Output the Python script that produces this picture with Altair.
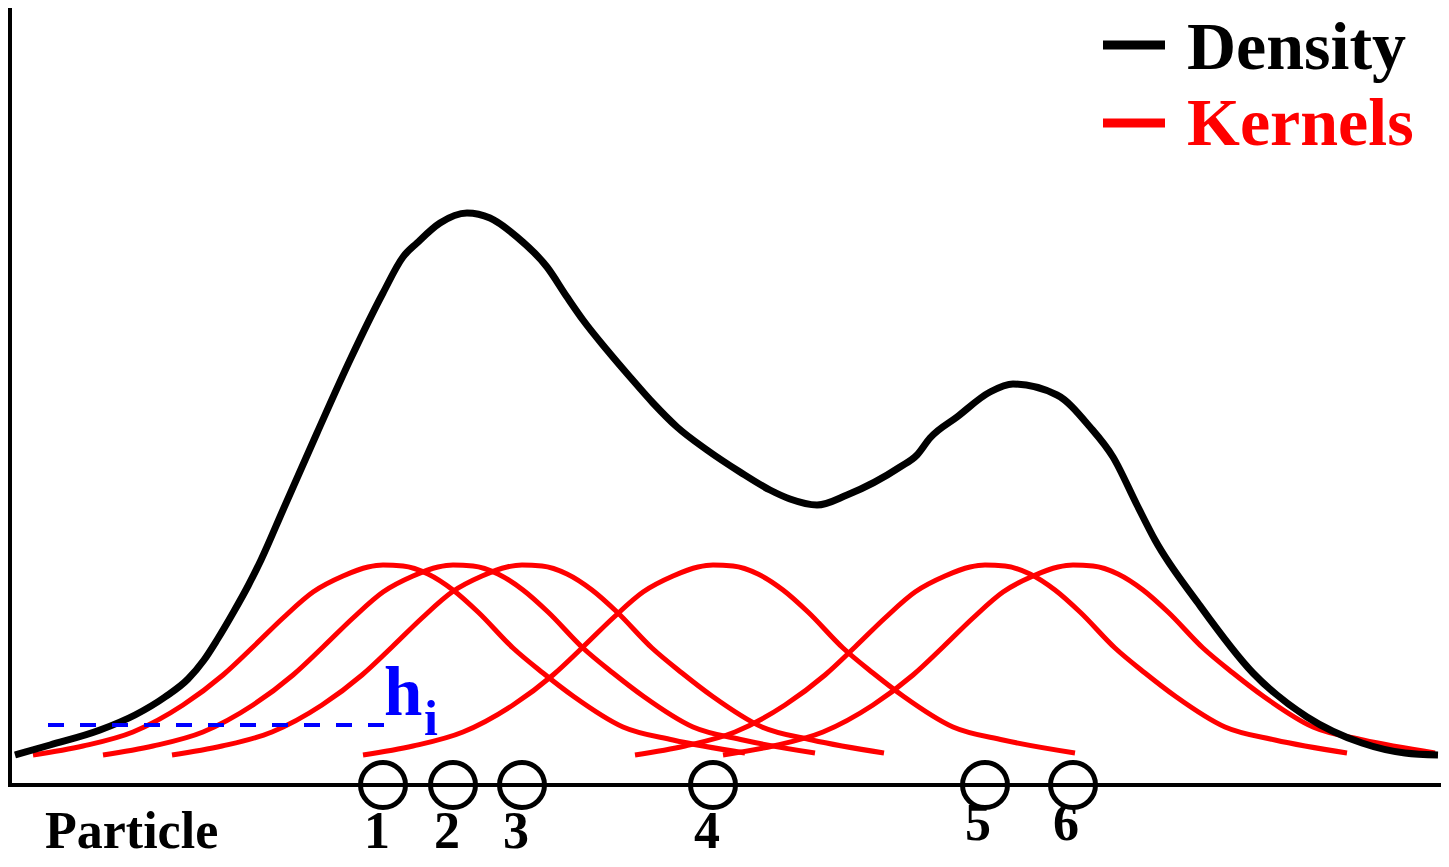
import altair as alt
import pandas as pd

# ---- data (x = horizontal position, h = height above the axis) ----
particle_x = [383, 453, 522, 713, 985, 1073]
particle_label = ["1", "2", "3", "4", "5", "6"]

# one kernel profile (offset from its particle, height); every kernel is the same shape
kernel_dx = [-350, -300, -250, -200, -160, -130, -100, -70, -40, -15, 0, 20, 45, 70, 95, 130, 160, 190, 240, 290, 362]
kernel_h = [30, 39, 53, 80, 110, 138, 167, 193, 209, 218, 220, 219, 211, 195, 173, 137, 112, 89, 58, 45, 32]

density_x = [15, 50, 100, 135, 165, 188, 204, 217, 233, 248, 261, 283, 317, 350, 383, 403, 417, 440, 467, 490,
             517, 547, 567, 583, 607, 630, 653, 677, 707, 740, 770, 790, 817, 847, 900, 917, 930, 957, 990, 1013,
             1057, 1090, 1113, 1137, 1155, 1198, 1253, 1307, 1362, 1405, 1438]
density_h = [30, 40, 55, 70, 88, 106, 125, 145, 172, 199, 225, 275, 352, 425, 492, 528, 542, 562, 572, 567,
             548, 518, 488, 465, 435, 408, 382, 358, 335, 313, 295, 286, 280, 290, 318, 330, 347, 368, 393, 401,
             390, 358, 328, 280, 245, 182, 112, 68, 42, 32, 30]

legend_names = ["Density", "Kernels"]
legend_colors = ["#000000", "#ff0000"]

FONT = "Liberation Serif"
W, H = 1433, 777

density_df = pd.DataFrame({"x": density_x, "h": density_h})
rows = []
for k, px in enumerate(particle_x):
    for dx, h in zip(kernel_dx, kernel_h):
        rows.append({"kernel": k, "x": px + dx, "h": h})
kernel_df = pd.DataFrame(rows)
particles_df = pd.DataFrame({"x": particle_x, "label": particle_label, "h": [0] * len(particle_x)})
one = pd.DataFrame({"a": [0]})

xs = alt.Scale(domain=[8, 8 + W], nice=False, zero=False)
ys = alt.Scale(domain=[0, H], nice=False, zero=False)

# axes
left_axis = alt.Chart(one).mark_rule(color="black", strokeWidth=4).encode(
    x=alt.value(2), y=alt.value(0), y2=alt.value(H))
bottom_axis = alt.Chart(one).mark_rule(color="black", strokeWidth=4).encode(
    x=alt.value(0), x2=alt.value(W), y=alt.value(H))

kernels = alt.Chart(kernel_df).mark_line(color="#ff0000", strokeWidth=5, interpolate="monotone").encode(
    x=alt.X("x:Q", scale=xs, axis=None),
    y=alt.Y("h:Q", scale=ys, axis=None),
    detail="kernel:N",
)

density = alt.Chart(density_df).mark_line(color="black", strokeWidth=7, interpolate="monotone").encode(
    x=alt.X("x:Q", scale=xs, axis=None),
    y=alt.Y("h:Q", scale=ys, axis=None),
)

hline = alt.Chart(one).mark_rule(color="#0000ff", strokeWidth=4, strokeDash=[16, 16]).encode(
    x=alt.value(40), x2=alt.value(377), y=alt.value(717))
h_text = alt.Chart(one).mark_text(font=FONT, fontSize=69, fontWeight="bold", color="#0000ff",
                                  align="left", baseline="alphabetic").encode(
    x=alt.value(376), y=alt.value(707), text=alt.value("h"))
i_text = alt.Chart(one).mark_text(font=FONT, fontSize=50, fontWeight="bold", color="#0000ff",
                                  align="left", baseline="alphabetic").encode(
    x=alt.value(416), y=alt.value(727), text=alt.value("i"))

circles = alt.Chart(particles_df).mark_point(shape="circle", size=2025, filled=False, stroke="black",
                                             strokeWidth=5, opacity=1).encode(
    x=alt.X("x:Q", scale=xs, axis=None),
    y=alt.Y("h:Q", scale=ys, axis=None),
)

labels_low = alt.Chart(particles_df).transform_filter("datum.x < 900").mark_text(
    font=FONT, fontSize=52, fontWeight="bold", color="black", dx=-6, align="center", baseline="alphabetic"
).encode(x=alt.X("x:Q", scale=xs, axis=None), y=alt.value(840), text="label:N")
labels_high = alt.Chart(particles_df).transform_filter("datum.x >= 900").mark_text(
    font=FONT, fontSize=52, fontWeight="bold", color="black", dx=-7, align="center", baseline="alphabetic"
).encode(x=alt.X("x:Q", scale=xs, axis=None), y=alt.value(832), text="label:N")

particle_text = alt.Chart(one).mark_text(font=FONT, fontSize=52, fontWeight="bold", color="black",
                                         align="left", baseline="alphabetic").encode(
    x=alt.value(37), y=alt.value(840), text=alt.value("Particle"))

# legend
leg_black = alt.Chart(one).mark_rule(color=legend_colors[0], strokeWidth=9).encode(
    x=alt.value(1095), x2=alt.value(1157), y=alt.value(37))
leg_red = alt.Chart(one).mark_rule(color=legend_colors[1], strokeWidth=9).encode(
    x=alt.value(1095), x2=alt.value(1157), y=alt.value(115))
leg_t1 = alt.Chart(one).mark_text(font=FONT, fontSize=68, fontWeight="bold", color=legend_colors[0],
                                  align="left", baseline="alphabetic").encode(
    x=alt.value(1179), y=alt.value(61), text=alt.value(legend_names[0]))
leg_t2 = alt.Chart(one).mark_text(font=FONT, fontSize=68, fontWeight="bold", color=legend_colors[1],
                                  align="left", baseline="alphabetic").encode(
    x=alt.value(1179), y=alt.value(137), text=alt.value(legend_names[1]))

chart = alt.layer(
    left_axis, bottom_axis, kernels, density, hline, h_text, i_text, circles,
    labels_low, labels_high, particle_text, leg_black, leg_red, leg_t1, leg_t2,
).properties(
    width=W, height=H,
    autosize=alt.AutoSizeParams(type="none"),
    padding={"left": 0, "top": 0, "right": 0, "bottom": 74},
).configure_view(stroke=None)

chart.save("out.html", embed_options={"renderer": "svg", "actions": False})
